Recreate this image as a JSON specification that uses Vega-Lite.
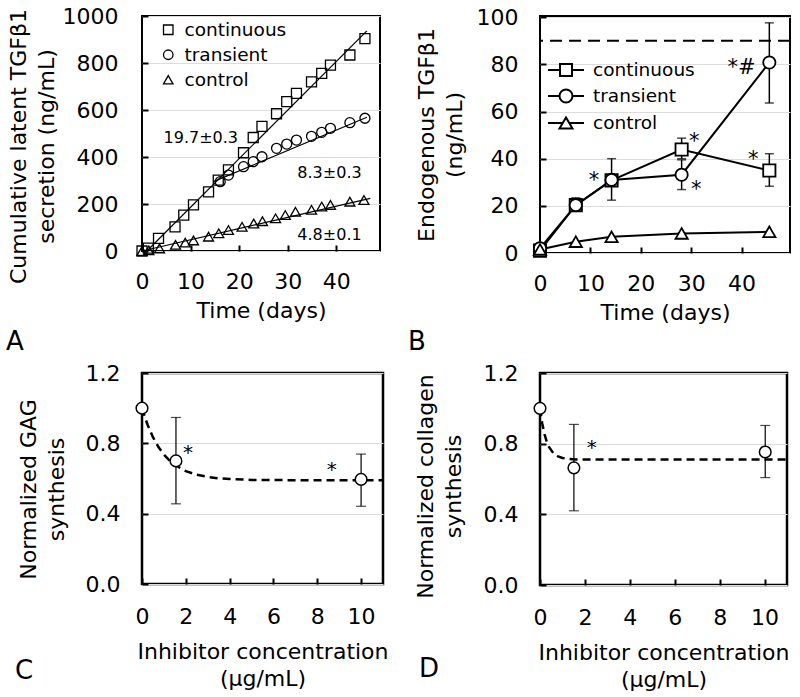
{
  "$schema": "https://vega.github.io/schema/vega-lite/v6.json",
  "autosize": {"type": "none"},
  "padding": {"left": 142, "top": 16, "right": 658, "bottom": 681},
  "background": "white",
  "config": {
    "font": "DejaVu Sans",
    "view": {"stroke": "black", "strokeWidth": 2},
    "axis": {
      "domain": false, "labelFont": "DejaVu Sans", "labelFontSize": 22, "labelColor": "black",
      "titleFont": "DejaVu Sans", "titleFontSize": 22, "titleFontWeight": "normal", "titleColor": "black",
      "tickColor": "black", "tickWidth": 2, "tickSize": -6, "gridColor": "#dcdcdc", "gridWidth": 1,
      "titleLineHeight": 28, "labelFlush": false, "labelOverlap": false
    },
    "axisX": {"grid": false, "labelPadding": 26, "titlePadding": 8},
    "axisY": {"labelPadding": 30, "titlePadding": 8},
    "legend": {"title": null, "padding": 0, "labelFont": "DejaVu Sans", "labelFontSize": 18.5, "labelColor": "black"},
    "title": {"font": "DejaVu Sans", "fontSize": 26, "fontWeight": "normal", "color": "black"}
  },
  "datasets": {
    "aPoints": [
      {"series": "continuous", "day": 0, "value": 0},
      {"series": "continuous", "day": 1.3, "value": 12},
      {"series": "continuous", "day": 3.4, "value": 54},
      {"series": "continuous", "day": 6.8, "value": 103},
      {"series": "continuous", "day": 8.6, "value": 153},
      {"series": "continuous", "day": 10.6, "value": 196},
      {"series": "continuous", "day": 13.7, "value": 252},
      {"series": "continuous", "day": 15.7, "value": 302},
      {"series": "continuous", "day": 17.8, "value": 345},
      {"series": "continuous", "day": 20.9, "value": 418},
      {"series": "continuous", "day": 22.9, "value": 483},
      {"series": "continuous", "day": 24.7, "value": 530},
      {"series": "continuous", "day": 27.7, "value": 584},
      {"series": "continuous", "day": 29.8, "value": 636},
      {"series": "continuous", "day": 31.8, "value": 671},
      {"series": "continuous", "day": 34.9, "value": 720},
      {"series": "continuous", "day": 37, "value": 756},
      {"series": "continuous", "day": 38.8, "value": 791},
      {"series": "continuous", "day": 42.8, "value": 834},
      {"series": "continuous", "day": 45.9, "value": 904},
      {"series": "transient", "day": 16.1, "value": 295},
      {"series": "transient", "day": 17.8, "value": 323},
      {"series": "transient", "day": 20.9, "value": 359},
      {"series": "transient", "day": 22.9, "value": 380},
      {"series": "transient", "day": 24.7, "value": 401},
      {"series": "transient", "day": 27.7, "value": 437},
      {"series": "transient", "day": 29.8, "value": 455},
      {"series": "transient", "day": 31.8, "value": 472},
      {"series": "transient", "day": 34.9, "value": 488},
      {"series": "transient", "day": 37, "value": 505},
      {"series": "transient", "day": 38.8, "value": 522},
      {"series": "transient", "day": 42.8, "value": 546},
      {"series": "transient", "day": 45.9, "value": 565},
      {"series": "control", "day": 0, "value": 0},
      {"series": "control", "day": 1.4, "value": 3},
      {"series": "control", "day": 3.6, "value": 11},
      {"series": "control", "day": 6.9, "value": 26},
      {"series": "control", "day": 8.9, "value": 36},
      {"series": "control", "day": 10.6, "value": 45},
      {"series": "control", "day": 13.7, "value": 61},
      {"series": "control", "day": 15.8, "value": 75},
      {"series": "control", "day": 17.8, "value": 89},
      {"series": "control", "day": 20.6, "value": 103},
      {"series": "control", "day": 23, "value": 117},
      {"series": "control", "day": 24.8, "value": 127},
      {"series": "control", "day": 27.5, "value": 139},
      {"series": "control", "day": 29.5, "value": 153},
      {"series": "control", "day": 31.6, "value": 167},
      {"series": "control", "day": 34.9, "value": 175},
      {"series": "control", "day": 37, "value": 189},
      {"series": "control", "day": 38.8, "value": 196},
      {"series": "control", "day": 42.8, "value": 210},
      {"series": "control", "day": 45.7, "value": 217}
    ],
    "aFits": [
      {"fit": "continuous", "day": 1, "value": 0},
      {"fit": "continuous", "day": 46.3, "value": 937},
      {"fit": "transient", "day": 14.7, "value": 295},
      {"fit": "transient", "day": 46.3, "value": 569},
      {"fit": "control", "day": 0, "value": 0},
      {"fit": "control", "day": 47, "value": 224}
    ],
    "aLabels": [
      {"label": "19.7±0.3", "day": 12.1, "value": 479},
      {"label": "8.3±0.3", "day": 38.6, "value": 331},
      {"label": "4.8±0.1", "day": 38.6, "value": 68}
    ],
    "bRef": [{"ref": 90}],
    "bPoints": [
      {"series": "continuous", "day": 0, "value": 1},
      {"series": "continuous", "day": 7.1, "value": 20.3},
      {"series": "continuous", "day": 14.2, "value": 30.8},
      {"series": "continuous", "day": 28.1, "value": 43.9},
      {"series": "continuous", "day": 45.5, "value": 35},
      {"series": "transient", "day": 0, "value": 2},
      {"series": "transient", "day": 7.1, "value": 20.3},
      {"series": "transient", "day": 14.2, "value": 31},
      {"series": "transient", "day": 28.1, "value": 33.2},
      {"series": "transient", "day": 45.5, "value": 80.8},
      {"series": "control", "day": 0, "value": 1.5},
      {"series": "control", "day": 7.1, "value": 4.8},
      {"series": "control", "day": 14.2, "value": 6.9},
      {"series": "control", "day": 28.1, "value": 8.3},
      {"series": "control", "day": 45.5, "value": 9}
    ],
    "bErr": [
      {"series": "continuous", "day": 0, "lo": 0, "hi": 3.4},
      {"series": "continuous", "day": 7.1, "lo": 18.1, "hi": 23.4},
      {"series": "continuous", "day": 14.2, "lo": 22.4, "hi": 40},
      {"series": "continuous", "day": 28.1, "lo": 40, "hi": 48.7},
      {"series": "continuous", "day": 45.5, "lo": 28.3, "hi": 42.1},
      {"series": "transient", "day": 28.1, "lo": 26.9, "hi": 39.5},
      {"series": "transient", "day": 45.5, "lo": 63.6, "hi": 97.6}
    ],
    "bStars": [
      {"label": "*", "day": 10.7, "value": 33},
      {"label": "*", "day": 30.6, "value": 49.8},
      {"label": "*", "day": 31, "value": 29.4},
      {"label": "*", "day": 42.3, "value": 42},
      {"label": "*#", "day": 40, "value": 80.8}
    ],
    "cPoints": [
      {"conc": 0, "value": 1.0},
      {"conc": 1.55, "value": 0.70},
      {"conc": 10, "value": 0.595}
    ],
    "cErr": [
      {"conc": 1.55, "lo": 0.456, "hi": 0.947},
      {"conc": 10, "lo": 0.442, "hi": 0.739}
    ],
    "cCurve": [
      {"conc": 0, "value": 1.0},
      {"conc": 0.25, "value": 0.907},
      {"conc": 0.5, "value": 0.835},
      {"conc": 0.75, "value": 0.779},
      {"conc": 1, "value": 0.736},
      {"conc": 1.25, "value": 0.703},
      {"conc": 1.5, "value": 0.677},
      {"conc": 2, "value": 0.642},
      {"conc": 2.5, "value": 0.621},
      {"conc": 3, "value": 0.609},
      {"conc": 3.5, "value": 0.601},
      {"conc": 4, "value": 0.597},
      {"conc": 5, "value": 0.592},
      {"conc": 6, "value": 0.591},
      {"conc": 8, "value": 0.59},
      {"conc": 11, "value": 0.59}
    ],
    "cStars": [
      {"label": "*", "conc": 2.1, "value": 0.78},
      {"label": "*", "conc": 8.66, "value": 0.68}
    ],
    "dPoints": [
      {"conc": 0, "value": 1.0},
      {"conc": 1.51, "value": 0.663},
      {"conc": 10.03, "value": 0.753}
    ],
    "dErr": [
      {"conc": 1.51, "lo": 0.42, "hi": 0.909},
      {"conc": 10.03, "lo": 0.608, "hi": 0.903}
    ],
    "dCurve": [
      {"conc": 0, "value": 1.0},
      {"conc": 0.1, "value": 0.914},
      {"conc": 0.2, "value": 0.854},
      {"conc": 0.3, "value": 0.812},
      {"conc": 0.4, "value": 0.782},
      {"conc": 0.6, "value": 0.745},
      {"conc": 0.8, "value": 0.728},
      {"conc": 1.0, "value": 0.719},
      {"conc": 1.3, "value": 0.713},
      {"conc": 1.6, "value": 0.711},
      {"conc": 2, "value": 0.71},
      {"conc": 11, "value": 0.71}
    ],
    "dStars": [
      {"label": "*", "conc": 2.3, "value": 0.81}
    ]
  },
  "columns": 2,
  "align": "none",
  "bounds": "flush",
  "spacing": {"row": 120, "column": 157},
  "concat": [
    {
      "width": 238, "height": 235,
      "title": {"text": "A", "orient": "bottom", "anchor": "start", "frame": "group", "dx": -136, "offset": 8, "baseline": "top"},
      "layer": [
        {
          "data": {"name": "aFits"},
          "mark": {"type": "line", "color": "black", "strokeWidth": 1.2},
          "encoding": {
            "x": {"field": "day", "type": "quantitative", "scale": {"domain": [0, 49], "nice": false, "zero": false}, "axis": {"title": "Time (days)", "values": [0, 10, 20, 30, 40]}},
            "y": {"field": "value", "type": "quantitative", "scale": {"domain": [0, 1000], "nice": false}, "axis": {"title": ["Cumulative latent TGFβ1", "secretion (ng/mL)"], "values": [0, 200, 400, 600, 800, 1000], "format": "d", "grid": true, "titleY": 130, "titlePadding": 4}},
            "detail": {"field": "fit", "type": "nominal"}
          }
        },
        {
          "data": {"name": "aPoints"},
          "mark": {"type": "point", "filled": false, "color": "black", "strokeWidth": 1.3, "size": 100, "opacity": 1},
          "encoding": {
            "x": {"field": "day", "type": "quantitative"},
            "y": {"field": "value", "type": "quantitative"},
            "shape": {
              "field": "series", "type": "nominal",
              "scale": {"domain": ["continuous", "transient", "control"], "range": ["square", "circle", "triangle-up"]},
              "legend": {"orient": "none", "legendX": 17, "legendY": 4.5, "symbolSize": 90, "symbolStrokeWidth": 1.3, "symbolStrokeColor": "black", "labelOffset": 7, "rowPadding": 6}
            }
          }
        },
        {
          "data": {"name": "aLabels"},
          "mark": {"type": "text", "fontSize": 16, "color": "black"},
          "encoding": {
            "x": {"field": "day", "type": "quantitative"},
            "y": {"field": "value", "type": "quantitative"},
            "text": {"field": "label", "type": "nominal"}
          }
        }
      ]
    },
    {
      "width": 250, "height": 237,
      "title": {"text": "B", "orient": "bottom", "anchor": "start", "frame": "group", "dx": -132, "offset": 6, "baseline": "top"},
      "resolve": {"scale": {"shape": "independent"}},
      "layer": [
        {
          "data": {"name": "bRef"},
          "mark": {"type": "rule", "color": "black", "strokeWidth": 2, "strokeDash": [12, 7]},
          "encoding": {
            "y": {"field": "ref", "type": "quantitative", "scale": {"domain": [0, 100.5], "nice": false}, "axis": {"title": ["Endogenous TGFβ1", "(ng/mL)"], "values": [0, 20, 40, 60, 80, 100], "grid": true, "titlePadding": 10, "labelPadding": 28}}
          }
        },
        {
          "data": {"name": "bErr"},
          "mark": {"type": "rule", "color": "black", "strokeWidth": 1.5},
          "encoding": {
            "x": {"field": "day", "type": "quantitative", "scale": {"domain": [0, 49.6], "nice": false, "zero": false}, "axis": {"title": "Time (days)", "values": [0, 10, 20, 30, 40]}},
            "y": {"field": "lo", "type": "quantitative"},
            "y2": {"field": "hi"}
          }
        },
        {
          "data": {"name": "bErr"},
          "transform": [{"fold": ["lo", "hi"], "as": ["end", "val"]}],
          "mark": {"type": "tick", "orient": "horizontal", "color": "black", "size": 9, "thickness": 1.5},
          "encoding": {
            "x": {"field": "day", "type": "quantitative"},
            "y": {"field": "val", "type": "quantitative"}
          }
        },
        {
          "data": {"name": "bPoints"},
          "mark": {"type": "line", "color": "black", "strokeWidth": 2},
          "encoding": {
            "x": {"field": "day", "type": "quantitative"},
            "y": {"field": "value", "type": "quantitative"},
            "detail": {"field": "series", "type": "nominal"}
          }
        },
        {
          "data": {"name": "bPoints"},
          "mark": {"type": "point", "filled": true, "fill": "white", "stroke": "black", "strokeWidth": 1.8, "size": 150, "opacity": 1},
          "encoding": {
            "x": {"field": "day", "type": "quantitative"},
            "y": {"field": "value", "type": "quantitative"},
            "shape": {
              "field": "series", "type": "nominal",
              "scale": {"domain": ["continuous", "transient", "control"], "range": ["square", "circle", "triangle-up"]},
              "legend": null
            }
          }
        },
        {
          "data": {"name": "bPoints"},
          "transform": [{"filter": "datum.day < 0"}],
          "mark": {"type": "point", "filled": false, "color": "black", "strokeWidth": 2, "opacity": 1},
          "encoding": {
            "x": {"field": "day", "type": "quantitative"},
            "y": {"field": "value", "type": "quantitative"},
            "shape": {
              "field": "series", "type": "nominal",
              "scale": {
                "domain": ["continuous", "transient", "control"],
                "range": [
                  "M-1.8,0L-0.6,0M0.6,0L1.8,0M-0.6,-0.6L0.6,-0.6L0.6,0.6L-0.6,0.6Z",
                  "M-1.8,0L-0.65,0M0.65,0L1.8,0M-0.65,0A0.65,0.65,0,1,0,0.65,0A0.65,0.65,0,1,0,-0.65,0Z",
                  "M-1.8,0L-0.33,0M0.33,0L1.8,0M-0.65,0.55L0,-0.55L0.65,0.55Z"
                ]
              },
              "legend": {
                "orient": "none", "legendX": 15, "legendY": 43, "symbolSize": 400, "symbolStrokeWidth": 2,
                "symbolStrokeColor": "black", "labelOffset": 16, "rowPadding": 5
              }
            }
          }
        },
        {
          "data": {"name": "bStars"},
          "mark": {"type": "text", "fontSize": 21, "color": "black", "baseline": "middle", "dy": 6},
          "encoding": {
            "x": {"field": "day", "type": "quantitative"},
            "y": {"field": "value", "type": "quantitative"},
            "text": {"field": "label", "type": "nominal"}
          }
        }
      ]
    },
    {
      "width": 241, "height": 211,
      "view": {"stroke": "black", "strokeWidth": 2.5},
      "title": {"text": "C", "orient": "bottom", "anchor": "start", "frame": "group", "dx": -127, "offset": -32, "baseline": "top"},
      "layer": [
        {
          "data": {"name": "cCurve"},
          "mark": {"type": "line", "color": "black", "strokeWidth": 2.5, "strokeDash": [8, 5]},
          "encoding": {
            "x": {"field": "conc", "type": "quantitative", "scale": {"domain": [0, 11], "nice": false, "zero": false}, "axis": {"title": ["Inhibitor concentration", "(μg/mL)"], "values": [0, 2, 4, 6, 8, 10], "titleLineHeight": 27.5, "labelPadding": 28, "titlePadding": 14}},
            "y": {"field": "value", "type": "quantitative", "scale": {"domain": [0, 1.2], "nice": false}, "axis": {"title": ["Normalized GAG", "synthesis"], "values": [0, 0.4, 0.8, 1.2], "format": ".1f", "grid": true, "labelPadding": 28, "titlePadding": 17, "titleY": 116}}
          }
        },
        {
          "data": {"name": "cErr"},
          "mark": {"type": "rule", "color": "black", "strokeWidth": 1.2},
          "encoding": {
            "x": {"field": "conc", "type": "quantitative"},
            "y": {"field": "lo", "type": "quantitative"},
            "y2": {"field": "hi"}
          }
        },
        {
          "data": {"name": "cErr"},
          "transform": [{"fold": ["lo", "hi"], "as": ["end", "val"]}],
          "mark": {"type": "tick", "orient": "horizontal", "color": "black", "size": 10, "thickness": 1.2},
          "encoding": {
            "x": {"field": "conc", "type": "quantitative"},
            "y": {"field": "val", "type": "quantitative"}
          }
        },
        {
          "data": {"name": "cPoints"},
          "mark": {"type": "point", "shape": "circle", "filled": true, "fill": "white", "stroke": "black", "strokeWidth": 1.5, "size": 135, "opacity": 1},
          "encoding": {
            "x": {"field": "conc", "type": "quantitative"},
            "y": {"field": "value", "type": "quantitative"}
          }
        },
        {
          "data": {"name": "cStars"},
          "mark": {"type": "text", "fontSize": 20, "color": "black", "baseline": "middle", "dy": 6},
          "encoding": {
            "x": {"field": "conc", "type": "quantitative"},
            "y": {"field": "value", "type": "quantitative"},
            "text": {"field": "label", "type": "nominal"}
          }
        }
      ]
    },
    {
      "width": 247, "height": 212,
      "view": {"stroke": "black", "strokeWidth": 2.5},
      "title": {"text": "D", "orient": "bottom", "anchor": "start", "frame": "group", "dx": -121, "offset": -35, "baseline": "top"},
      "layer": [
        {
          "data": {"name": "dCurve"},
          "mark": {"type": "line", "color": "black", "strokeWidth": 2.5, "strokeDash": [8, 5]},
          "encoding": {
            "x": {"field": "conc", "type": "quantitative", "scale": {"domain": [0, 11], "nice": false, "zero": false}, "axis": {"title": ["Inhibitor concentration", "(μg/mL)"], "values": [0, 2, 4, 6, 8, 10], "titleLineHeight": 27.5, "labelPadding": 28, "titlePadding": 14}},
            "y": {"field": "value", "type": "quantitative", "scale": {"domain": [0, 1.2], "nice": false}, "axis": {"title": ["Normalized collagen", "synthesis"], "values": [0, 0.4, 0.8, 1.2], "format": ".1f", "grid": true, "labelPadding": 28, "titlePadding": 18, "titleY": 113}}
          }
        },
        {
          "data": {"name": "dErr"},
          "mark": {"type": "rule", "color": "black", "strokeWidth": 1.2},
          "encoding": {
            "x": {"field": "conc", "type": "quantitative"},
            "y": {"field": "lo", "type": "quantitative"},
            "y2": {"field": "hi"}
          }
        },
        {
          "data": {"name": "dErr"},
          "transform": [{"fold": ["lo", "hi"], "as": ["end", "val"]}],
          "mark": {"type": "tick", "orient": "horizontal", "color": "black", "size": 10, "thickness": 1.2},
          "encoding": {
            "x": {"field": "conc", "type": "quantitative"},
            "y": {"field": "val", "type": "quantitative"}
          }
        },
        {
          "data": {"name": "dPoints"},
          "mark": {"type": "point", "shape": "circle", "filled": true, "fill": "white", "stroke": "black", "strokeWidth": 1.5, "size": 135, "opacity": 1},
          "encoding": {
            "x": {"field": "conc", "type": "quantitative"},
            "y": {"field": "value", "type": "quantitative"}
          }
        },
        {
          "data": {"name": "dStars"},
          "mark": {"type": "text", "fontSize": 20, "color": "black", "baseline": "middle", "dy": 6},
          "encoding": {
            "x": {"field": "conc", "type": "quantitative"},
            "y": {"field": "value", "type": "quantitative"},
            "text": {"field": "label", "type": "nominal"}
          }
        }
      ]
    }
  ]
}
